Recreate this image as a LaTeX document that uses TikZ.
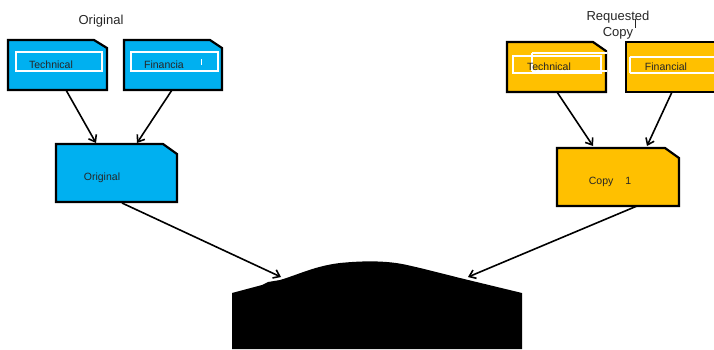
\documentclass[tikz,border=0pt]{standalone}
\usepackage{fontspec}
\setmainfont{Liberation Sans}
\usetikzlibrary{arrows.meta}
\definecolor{docblue}{HTML}{00B0F0}
\definecolor{docorange}{HTML}{FFC000}
\tikzset{
  docshape/.style={draw=black, line width=2.2pt, line join=miter},
  innerbox/.style={draw=white, line width=1.6pt},
  label/.style={font=\fontsize{10.5}{12}\selectfont, text=black!85, inner sep=0pt},
  title/.style={font=\fontsize{13}{16}\selectfont, text=black!85, inner sep=0pt, align=center},
  conn/.style={-{Straight Barb[length=6pt,width=9pt,line width=1.6pt]}, line width=1.6pt}
}
\begin{document}
\begin{tikzpicture}[x=1pt,y=-1pt]
\useasboundingbox (0,0) rectangle (714,349);
% ---------- left side ----------
\node[title] (torig) at (101,21) {Original};
% Technical doc
\fill[docblue, docshape] (8,40) -- (94,40) -- (107,48) -- (107,90) -- (8,90) -- cycle;
\draw[innerbox] (16,52) rectangle (102,71);
\node[label] (ltech) at (51,65) {Technical};
\coordinate (ltechB) at (66,90);
% Financia doc
\fill[docblue, docshape] (124,40) -- (210,40) -- (222,48) -- (222,90) -- (124,90) -- cycle;
\draw[innerbox] (131,52) rectangle (218,71);
\node[label] (lfin) at (164,65) {Financia};
\draw[white, line width=0.8pt] (201,59) -- (201,65);
\coordinate (lfinB) at (172,90);
% Original doc
\fill[docblue, docshape] (56,144) -- (163,144) -- (177,154) -- (177,202) -- (56,202) -- cycle;
\node[label] (lorig) at (102,178) {Original};
\coordinate (lorigT1) at (96,143);
\coordinate (lorigT2) at (137,143);
\coordinate (lorigB) at (122,203);
\draw[conn] (ltechB) -- (lorigT1);
\draw[conn] (lfinB) -- (lorigT2);
% ---------- right side ----------
\node[title] (treq) at (618,25) {Requested\\Copy};
\draw[black!85, line width=0.6pt] (635,19) -- (635,28);
% Technical doc
\fill[docorange, docshape] (507,42) -- (593,42) -- (606,51) -- (606,92) -- (507,92) -- cycle;
\draw[innerbox] (513,56) rectangle (601,73);
\draw[innerbox] (532,53) -- (607,53) (532,53) -- (532,71) (532,71) -- (607,71);
\node[label] (rtech) at (549,67) {Technical};
\coordinate (rtechB) at (557,92);
% Financial doc
\fill[docorange, docshape] (626,42) -- (718,42) -- (718,92) -- (626,92) -- cycle;
\draw[innerbox] (630,57) -- (716,57) (630,57) -- (630,73) (630,73) -- (716,73);
\node[label] (rfin) at (666,67) {Financial};
\coordinate (rfinB) at (672,92);
% Copy 1 doc
\fill[docorange, docshape] (557,148) -- (665,148) -- (679,158) -- (679,206) -- (557,206) -- cycle;
\node[label] (rcopy) at (610,182) {Copy\hspace{12pt}1};
\coordinate (rcopyT1) at (593,146);
\coordinate (rcopyT2) at (647,146);
\coordinate (rcopyB) at (637,206);
\draw[conn] (rtechB) -- (rcopyT1);
\draw[conn] (rfinB) -- (rcopyT2);
% ---------- bottom mound ----------
\fill[black] (232,349) -- (232,293) -- (262,285) -- (268,282) -- (280,280)
  .. controls (300,274) and (315,266) .. (340,263)
  .. controls (360,261) and (385,260) .. (407,265)
  .. controls (425,269) and (440,273) .. (460,278)
  -- (522,293) -- (522,349) -- cycle;
\coordinate (mL) at (281,277);
\coordinate (mR) at (468,277);
\draw[conn] (lorigB) -- (mL);
\draw[conn] (rcopyB) -- (mR);
\end{tikzpicture}
\end{document}
